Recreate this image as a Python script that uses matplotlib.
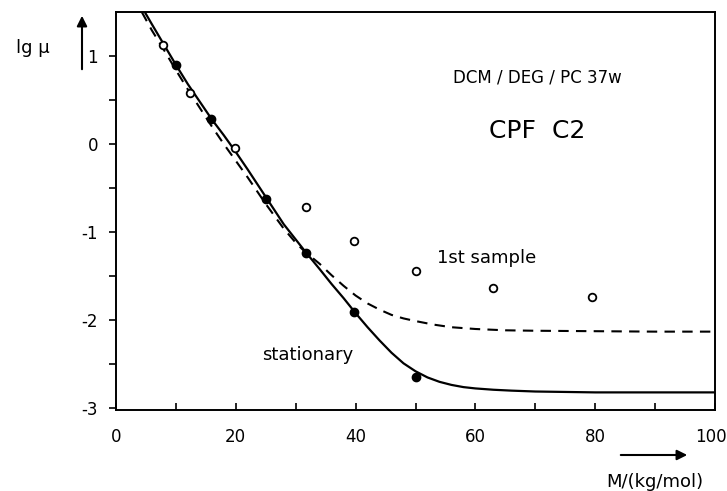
import matplotlib
matplotlib.use("Agg")
import matplotlib.pyplot as plt
import matplotlib.transforms as mtransforms

plt.rcParams['font.family'] = ['DejaVu Sans']
plt.rcParams['axes.unicode_minus'] = False

# measured points
open_M = [7.8, 12.4, 19.9, 31.7, 39.8, 50.1, 63.0, 79.4]
open_lg = [1.13, 0.58, -0.04, -0.71, -1.10, -1.44, -1.64, -1.74]
filled_M = [10.0, 15.9, 25.0, 31.7, 39.8, 50.1]
filled_lg = [0.90, 0.29, -0.625, -1.24, -1.91, -2.64]

# fitted curve, stationary (solid)
stat_M = [4.8, 6, 8, 10, 12, 14, 16, 18, 20, 22, 25, 28, 31.7, 34, 36, 38, 40,
          42, 44, 46, 48, 50, 52, 54, 56, 58, 60, 63, 66, 70, 75, 80, 90, 100]
stat_lg = [1.50, 1.36, 1.13, 0.90, 0.68, 0.48, 0.28, 0.10, -0.09, -0.29, -0.60,
           -0.91, -1.23, -1.42, -1.59, -1.75, -1.92, -2.08, -2.23, -2.37, -2.49,
           -2.58, -2.65, -2.70, -2.735, -2.76, -2.775, -2.79, -2.80, -2.81,
           -2.815, -2.82, -2.82, -2.82]

# fitted curve, 1st sample (dashed)
first_M = [4.3, 6, 8, 10, 12, 14, 16, 18, 20, 22, 25, 28, 30, 31.5, 34, 36, 38,
           40, 42, 44, 46, 48, 50, 53, 56, 60, 65, 70, 80, 90, 100]
first_lg = [1.50, 1.29, 1.07, 0.84, 0.62, 0.41, 0.20, 0.0, -0.19, -0.38, -0.68,
            -0.96, -1.12, -1.22, -1.36, -1.49, -1.61, -1.72, -1.81, -1.88,
            -1.94, -1.98, -2.01, -2.05, -2.08, -2.10, -2.115, -2.12, -2.125,
            -2.13, -2.13]

x_ticks = [0, 20, 40, 60, 80, 100]
y_ticks = [-3, -2, -1, 0, 1]

W, H = 727, 491
fig = plt.figure(figsize=(7.27, 4.91), dpi=100)
ax = fig.add_axes([116/W, 1-410/H, (715-116)/W, (410-12)/H])

ax.plot(stat_M, stat_lg, color='black', lw=1.6, solid_capstyle='butt')
ax.plot(first_M, first_lg, color='black', lw=1.5, dashes=(5, 3.5))
ax.plot(open_M, open_lg, 'o', ms=5.5, mfc='white', mec='black', mew=1.3,
        linestyle='none', zorder=5)
ax.plot(filled_M, filled_lg, 'o', ms=6, mfc='black', mec='black',
        linestyle='none', zorder=5)

ax.set_xlim(0, 100)
ax.set_ylim(-3.02, 1.5)
ax.set_xticks(x_ticks)
ax.set_xticks([10, 30, 50, 70, 90], minor=True)
ax.set_yticks(y_ticks)
ax.set_yticks([-2.5, -1.5, -0.5, 0.5], minor=True)
ax.tick_params(axis='x', which='both', direction='in', length=5, width=1.2,
               pad=13, labelsize=12)
ax.tick_params(axis='y', which='both', direction='out', length=5, width=1.2,
               pad=8, labelsize=12)
for s in ax.spines.values():
    s.set_linewidth(1.4)

# shift the last x tick label slightly left so it stays inside the figure
last = ax.get_xticklabels()[-1]
last.set_transform(last.get_transform() +
                   mtransforms.ScaledTranslation(-4/100, 0, fig.dpi_scale_trans))

fig.text(537/W, 1-78/H, 'DCM / DEG / PC 37w', fontsize=12, ha='center', va='center')
fig.text(537/W, 1-131/H, 'CPF  C2', fontsize=18, ha='center', va='center')
fig.text(487/W, 1-258/H, '1st sample', fontsize=13, ha='center', va='center')
fig.text(308/W, 1-355/H, 'stationary', fontsize=13, ha='center', va='center')
fig.text(655/W, 1-482/H, 'M/(kg/mol)', fontsize=13, ha='center', va='center')
fig.text(50/W, 1-48/H, 'lg μ', fontsize=13, ha='right', va='center')

fig.add_artist(matplotlib.patches.FancyArrowPatch(
    (618/W, 1-455/H), (690/W, 1-455/H), transform=fig.transFigure,
    arrowstyle='-|>,head_length=6,head_width=3', color='black', lw=1.5))
fig.add_artist(matplotlib.patches.FancyArrowPatch(
    (82/W, 1-72/H), (82/W, 1-13/H), transform=fig.transFigure,
    arrowstyle='-|>,head_length=6,head_width=3', color='black', lw=1.5))

fig.savefig('out.png', dpi=100)
